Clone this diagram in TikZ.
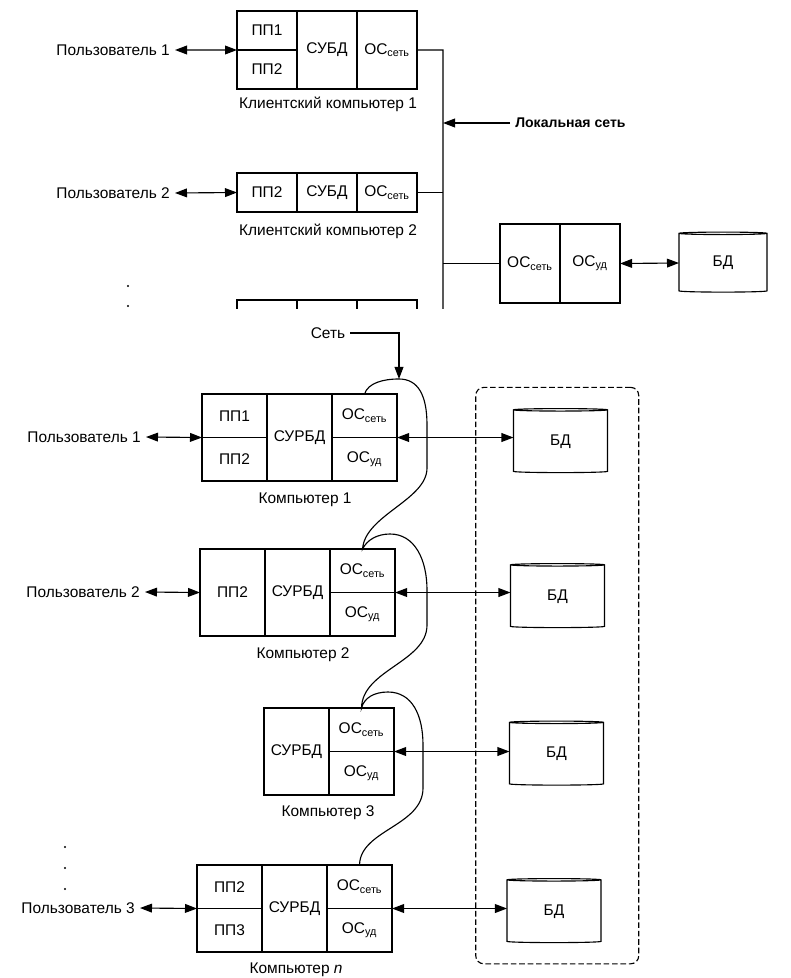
\documentclass[tikz,border=0pt]{standalone}
\usepackage{fontspec}
\setmainfont{Liberation Sans}
\usetikzlibrary{arrows.meta,positioning,fit,shapes.geometric}

\begin{document}
\begin{tikzpicture}[x=0.025cm, y=-0.025cm, line width=0.8pt,
  every node/.style={font=\fontsize{11}{13}\selectfont},
  cell/.style={draw, outer sep=0pt, inner sep=0pt},
  halfcell/.style={cell, minimum width=1.5cm, minimum height=0.975cm},
  fullcell/.style={cell, minimum width=1.5cm, minimum height=1.95cm},
  pchalf/.style={cell, minimum width=1.625cm, minimum height=1.0875cm},
  pcfull/.style={cell, minimum width=1.625cm, minimum height=2.175cm},
  db/.style={cylinder, shape border rotate=90, draw, aspect=0.12, outer sep=0pt, inner sep=0pt, minimum width=2.35cm, minimum height=1.6cm},
  biarrow/.style={{Triangle[length=3mm,width=2.2mm]}-{Triangle[length=3mm,width=2.2mm]}},
  uniarrow/.style={-{Triangle[length=3mm,width=2.2mm]}}]
\useasboundingbox (0,0) rectangle (790,978);

% upper scheme: client computers on a local network
\begin{scope}
\clip (0,0) rectangle (790,308);
\node[halfcell, anchor=north west] (c1pp1) at (237,11) {ПП1};
\node[halfcell, below=0pt of c1pp1] (c1pp2) {ПП2};
\node[fullcell, anchor=north west] (c1subd) at (c1pp1.north east) {СУБД};
\node[fullcell, anchor=north west] (c1os) at (c1subd.north east) {ОС\textsubscript{сеть}};
\node (c1lbl) at (328,104) {Клиентский компьютер 1};
\node[anchor=east] (tu1) at (175,50) {Пользователь 1};

\node[halfcell, anchor=north west] (c2pp2) at (237,173) {ПП2};
\node[halfcell, right=0pt of c2pp2] (c2subd) {СУБД};
\node[halfcell, right=0pt of c2subd] (c2os) {ОС\textsubscript{сеть}};
\node (c2lbl) at (328,231) {Клиентский компьютер 2};
\node[anchor=east] (tu2) at (175,193) {Пользователь 2};

\node[halfcell, anchor=north west] (c3a) at (237,300) {};
\node[halfcell, right=0pt of c3a] (c3b) {};
\node[halfcell, right=0pt of c3b] (c3c) {};

\node[fullcell, minimum height=1.975cm, anchor=north west] (srvnet) at (500,224) {ОС\textsubscript{сеть}};
\node[fullcell, minimum height=1.975cm, anchor=north west] (srvloc) at (srvnet.north east) {ОС\textsubscript{уд}};
\node[db, minimum width=2.2cm, minimum height=1.5cm] (topdb) at (723,263) {БД};
\node[anchor=west, font=\fontsize{10}{12}\selectfont\bfseries] (lanlbl) at (510,123) {Локальная сеть};

\coordinate (lantop) at (443,50);
\coordinate (lanbot) at (443,320);
\draw (c1os.east) -- (lantop) -- (lanbot);
\draw (c2os.east) -- (c2os.east -| lantop);
\draw (srvnet.west -| lantop) -- (srvnet.west);
\draw[uniarrow] (lanlbl.west) -- (lanlbl.west -| lantop);
\draw[biarrow] (tu1.east) -- (c1pp1.south west);
\draw[biarrow] (tu2.east) -- (c2pp2.west);
\draw[biarrow] (srvloc.east) -- (topdb.west);
\fill (128,286) circle (1.2) (128,306) circle (1.2);
\end{scope}

% lower scheme: distributed database
\node (net) at (328,333) {Сеть};
\coordinate (netin) at (399,379);

\node[pchalf, anchor=north west] (k1pp1) at (202,394) {ПП1};
\node[pchalf, below=0pt of k1pp1] (k1pp2) {ПП2};
\node[pcfull, anchor=north west] (k1subd) at (k1pp1.north east) {СУРБД};
\node[pchalf, anchor=north west] (k1oss) at (k1subd.north east) {ОС\textsubscript{сеть}};
\node[pchalf, below=0pt of k1oss] (k1osu) {ОС\textsubscript{уд}};
\node (k1lbl) at (305,500) {Компьютер 1};
\node[anchor=east] (u1) at (146,437) {Пользователь 1};

\node[pcfull, anchor=north west] (k2pp2) at (200,549) {ПП2};
\node[pcfull, anchor=north west] (k2subd) at (k2pp2.north east) {СУРБД};
\node[pchalf, anchor=north west] (k2oss) at (k2subd.north east) {ОС\textsubscript{сеть}};
\node[pchalf, below=0pt of k2oss] (k2osu) {ОС\textsubscript{уд}};
\node (k2lbl) at (303,655) {Компьютер 2};
\node[anchor=east] (u2) at (145,592) {Пользователь 2};

\node[pcfull, anchor=north west] (k3subd) at (264,708) {СУРБД};
\node[pchalf, anchor=north west] (k3oss) at (k3subd.north east) {ОС\textsubscript{сеть}};
\node[pchalf, below=0pt of k3oss] (k3osu) {ОС\textsubscript{уд}};
\node (k3lbl) at (328,813) {Компьютер 3};

\node[pchalf, anchor=north west] (knpp2) at (197,865) {ПП2};
\node[pchalf, below=0pt of knpp2] (knpp3) {ПП3};
\node[pcfull, anchor=north west] (knsubd) at (knpp2.north east) {СУРБД};
\node[pchalf, anchor=north west] (knoss) at (knsubd.north east) {ОС\textsubscript{сеть}};
\node[pchalf, below=0pt of knoss] (knosu) {ОС\textsubscript{уд}};
\node (knlbl) at (296,970) {Компьютер \textit{n}};
\node[anchor=east] (u3) at (140,908) {Пользователь 3};

\node[db] (db1) at (560.5,441.5) {БД};
\node[db] (db2) at (557.5,596.5) {БД};
\node[db] (db3) at (556.5,754) {БД};
\node[db] (db4) at (554,911.5) {БД};
\node[draw, dashed, dash pattern=on 4pt off 2pt, rounded corners=2mm, inner xsep=0.78cm, inner ysep=0.53cm, fit=(db1)(db4)] (store) {};

\draw[uniarrow] (net.east) -| (netin);
\draw (k1oss.north) .. controls (368,383) and (383,379) .. (netin)
  .. controls (418,379) and (427,395) .. (427,425) -- (427,468)
  .. controls (427,500) and (365,515) .. (k2oss.north)
  .. controls (367,540) and (377,534) .. (390,534)
  .. controls (415,534) and (427,560) .. (427,590) -- (427,625)
  .. controls (427,662) and (362,670) .. (k3oss.north)
  .. controls (364,698) and (374,692) .. (388,692)
  .. controls (412,692) and (423,715) .. (423,745) -- (423,788)
  .. controls (423,826) and (360,830) .. (knoss.north);

\draw[biarrow] (u1.east) -- (k1pp1.south west);
\draw[biarrow] (u2.east) -- (k2pp2.west);
\draw[biarrow] (u3.east) -- (knpp2.south west);
\draw[biarrow] (k1oss.south east) -- (db1.west |- k1oss.south east);
\draw[biarrow] (k2oss.south east) -- (db2.west |- k2oss.south east);
\draw[biarrow] (k3oss.south east) -- (db3.west |- k3oss.south east);
\draw[biarrow] (knoss.south east) -- (db4.west |- knoss.south east);
\fill (65,847) circle (1.2) (65,868) circle (1.2) (65,889) circle (1.2);
\end{tikzpicture}
\end{document}
